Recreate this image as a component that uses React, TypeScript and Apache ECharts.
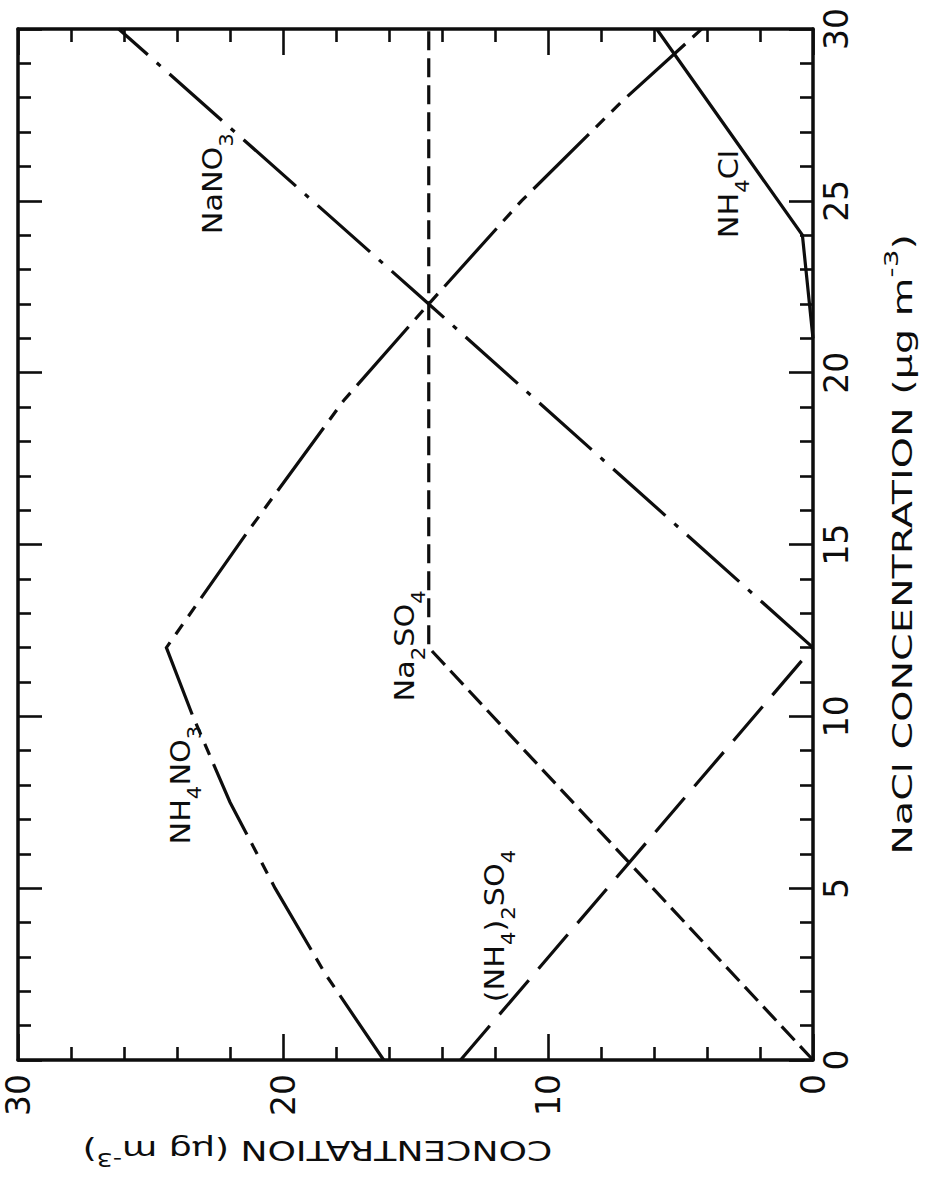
import { useEffect, useRef } from "react";
import * as echarts from "echarts";

// Tick values of the two axes (µg m^-3)
const concTicks = [0, 10, 20, 30];
const naclTicks = [0, 5, 10, 15, 20, 25, 30];

// Vertices of each curve: NaCl concentration and the species concentration there
const nh4no3NaCl = [0, 2.5, 5, 7.5, 10, 12, 15.3, 19.2, 22, 25, 27.9, 30];
const nh4no3Conc = [16.2, 18.4, 20.3, 22.0, 23.4, 24.4, 21.4, 17.7, 14.5, 11.0, 7.2, 4.2];

const nano3NaCl = [12, 22, 30];
const nano3Conc = [0, 14.5, 26.2];

const na2so4NaCl = [0, 12, 30];
const na2so4Conc = [0, 14.5, 14.5];

const nh42so4NaCl = [0, 12];
const nh42so4Conc = [13.3, 0];

const nh4clNaCl = [21, 24, 30];
const nh4clConc = [0, 0.4, 5.9];

// Species names, anchored in data space (concentration, NaCl)
const speciesLabels = [
  { text: "{n|NaNO}{s|3}", conc: 22.6, nacl: 25.5 },
  { text: "{n|NH}{s|4}{n|Cl}", conc: 3.1, nacl: 25.2 },
  { text: "{n|Na}{s|2}{n|SO}{s|4}", conc: 15.35, nacl: 12.05 },
  { text: "{n|NH}{s|4}{n|NO}{s|3}", conc: 23.8, nacl: 8.0 },
  { text: "{n|(NH}{s|4}{n|)}{s|2}{n|SO}{s|4}", conc: 11.95, nacl: 3.9 },
];

const naclTitle = "{n|NaCl CONCENTRATION (μg m}{p|-3}{n|)}";
const concTitle = "{n|CONCENTRATION (μg m}{p|-3}{n|)}";

const INK = "#0d0d0d";
const FONT = "DejaVu Sans";

const pairs = (nacl: number[], conc: number[]) => nacl.map((n, i) => [conc[i], n]);

const labelRich = {
  n: { fontSize: 27, lineHeight: 27, verticalAlign: "top", fontFamily: FONT, fill: INK },
  s: { fontSize: 19, lineHeight: 55, verticalAlign: "middle", fontFamily: FONT, fill: INK },
};

const titleRich = {
  n: { fontSize: 27, lineHeight: 27, verticalAlign: "bottom", fontFamily: FONT, fill: INK },
  p: { fontSize: 19, lineHeight: 47, verticalAlign: "middle", fontFamily: FONT, fill: INK },
};

function concAxis(position: "bottom" | "top", showLabels: boolean) {
  return {
    type: "value",
    position,
    inverse: true,
    min: concTicks[0],
    max: concTicks[concTicks.length - 1],
    interval: concTicks[1] - concTicks[0],
    axisLine: { show: true, onZero: false, lineStyle: { color: INK, width: 3.5 } },
    axisTick: { show: true, inside: true, length: 26, lineStyle: { color: INK, width: 2.6 } },
    minorTick: { show: true, splitNumber: 5, length: 13, lineStyle: { color: INK, width: 2.6 } },
    splitLine: { show: false },
    minorSplitLine: { show: false },
    axisLabel: {
      show: showLabels,
      rotate: 90,
      margin: 14,
      fontSize: 33,
      fontFamily: FONT,
      color: INK,
    },
  };
}

function naclAxis(position: "right" | "left", showLabels: boolean) {
  return {
    type: "value",
    position,
    min: naclTicks[0],
    max: naclTicks[naclTicks.length - 1],
    interval: naclTicks[1] - naclTicks[0],
    axisLine: { show: true, onZero: false, lineStyle: { color: INK, width: 3.5 } },
    axisTick: { show: true, inside: true, length: 24, lineStyle: { color: INK, width: 2.6 } },
    minorTick: { show: true, splitNumber: 5, length: 13, lineStyle: { color: INK, width: 2.6 } },
    splitLine: { show: false },
    minorSplitLine: { show: false },
    axisLabel: {
      show: showLabels,
      rotate: 90,
      margin: 7,
      fontSize: 33,
      fontFamily: FONT,
      color: INK,
    },
  };
}

function curve(name: string, data: number[][], dash: number[] | "solid") {
  return {
    name,
    type: "line",
    xAxisIndex: 0,
    yAxisIndex: 0,
    data,
    symbol: "none",
    silent: true,
    clip: false,
    lineStyle: { color: INK, width: 3.2, type: dash, cap: "butt", join: "miter" },
  };
}

export default function App() {
  const ref = useRef<HTMLDivElement>(null);

  useEffect(() => {
    document.body.style.margin = "0";
    const el = ref.current;
    if (!el) return;
    const chart = echarts.init(el, null, { renderer: "svg" });

    chart.setOption({
      animation: false,
      backgroundColor: "#ffffff",
      grid: { left: 18, right: 123, top: 29, bottom: 128, containLabel: false },
      xAxis: [concAxis("bottom", true), concAxis("top", false)],
      yAxis: [naclAxis("right", true), naclAxis("left", false)],
      series: [
        curve("NH4NO3", pairs(nh4no3NaCl, nh4no3Conc), [78, 10, 12, 10, 12, 10]),
        curve("NaNO3", pairs(nano3NaCl, nano3Conc), [70, 12, 5, 12]),
        curve("Na2SO4", pairs(na2so4NaCl, na2so4Conc), [19, 8]),
        curve("(NH4)2SO4", pairs(nh42so4NaCl, nh42so4Conc), [45, 15]),
        curve("NH4Cl", pairs(nh4clNaCl, nh4clConc), "solid"),
      ],
    });

    const toPx = (conc: number, nacl: number) =>
      chart.convertToPixel({ gridIndex: 0 }, [conc, nacl]) as number[];

    const labelEls = speciesLabels.map((l) => {
      const [px, py] = toPx(l.conc, l.nacl);
      return {
        type: "text",
        x: px + 12,
        y: py,
        rotation: Math.PI / 2,
        scaleX: 1.12,
        silent: true,
        style: { text: l.text, rich: labelRich, align: "center", verticalAlign: "middle", fill: INK },
      };
    });

    const [rightX] = toPx(0, 0);
    const [, bottomY] = toPx(0, 0);
    const [, midY] = toPx(0, 15);
    const [titleX] = toPx(18.7, 0);

    chart.setOption({
      graphic: [
        ...labelEls,
        {
          type: "text",
          x: rightX + 79,
          y: midY,
          rotation: Math.PI / 2,
          scaleX: 1.47,
          silent: true,
          style: { text: naclTitle, rich: titleRich, align: "center", verticalAlign: "middle", fill: INK },
        },
        {
          type: "text",
          x: titleX,
          y: bottomY + 100,
          rotation: Math.PI,
          scaleX: 1.34,
          silent: true,
          style: { text: concTitle, rich: titleRich, align: "center", verticalAlign: "middle", fill: INK },
        },
      ],
    });

    return () => chart.dispose();
  }, []);

  return <div ref={ref} style={{ width: 936, height: 1188 }} />;
}
